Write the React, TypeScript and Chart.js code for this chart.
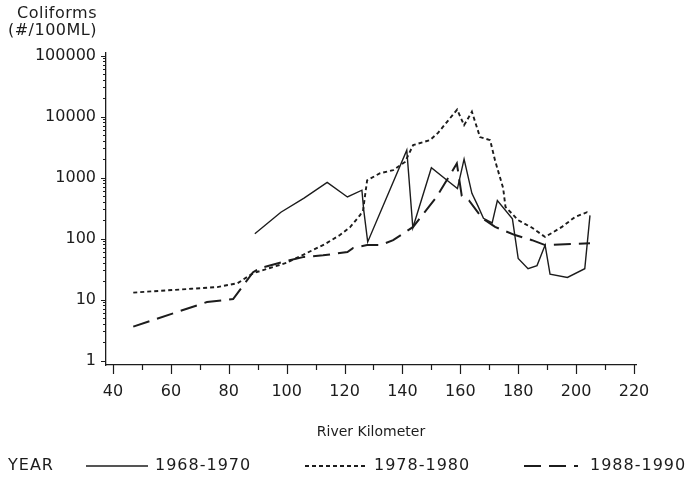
import React, { useEffect, useRef } from "react";
import { Chart, registerables } from "chart.js";

Chart.register(...registerables);

// ---- data ----
const seriesLabels = ["1968-1970", "1978-1980", "1988-1990"];
const legendTitle = "YEAR";
const yAxisTitle = ["Coliforms", "(#/100ML)"];
const xAxisTitle = "River Kilometer";

const km1968 = [89, 98, 106, 114, 121, 126, 126.6, 128, 141.5, 143.6, 150, 155.4, 159, 161.3, 164, 166, 168, 171, 172.8, 178, 180, 183.4, 186.5, 189.3, 191, 197, 203, 204.8];
const val1968 = [120, 270, 460, 830, 480, 620, 300, 88, 2800, 150, 1450, 900, 660, 2000, 550, 350, 215, 180, 420, 210, 47, 32, 36, 78, 26, 23, 32, 240];

const km1978 = [47, 67, 76, 83, 88.4, 100, 107, 113, 118.4, 122, 125.3, 126.4, 127.8, 132.3, 136.8, 140.9, 143.7, 149.5, 152.3, 158.9, 161.3, 164, 166.8, 170.3, 172, 174.8, 175.6, 180, 184.8, 189.3, 195.1, 199.6, 203.8, 204.8];
const val1978 = [13, 15, 16, 18.5, 27, 40, 58, 80, 114, 155, 240, 290, 900, 1180, 1320, 1800, 3400, 4100, 5400, 13000, 7200, 12000, 4600, 4100, 1900, 670, 330, 200, 150, 106, 155, 225, 270, 260];

const km1988 = [47, 72.5, 81.5, 88.4, 91, 101, 106, 112.6, 121, 123, 127.8, 132.3, 136.8, 143.7, 147.5, 151.8, 155.3, 158.8, 160.5, 163, 167.6, 172, 178.9, 184.8, 189.3, 204.8];
const val1988 = [3.6, 9.1, 10.2, 28, 33, 44, 50, 53, 60, 70, 78, 78, 94, 155, 265, 480, 900, 1700, 500, 420, 215, 155, 114, 94, 78, 84];

const xTickValues = [40, 50, 60, 70, 80, 90, 100, 110, 120, 130, 140, 150, 160, 170, 180, 190, 200, 210, 220];
const yTickValues = [1, 10, 100, 1000, 10000, 100000];
const yTickLabels = ["1", "10", "100", "1000", "10000", "100000"];

// ---- styles ----
const INK = "#1c1c1c";
const FONT = '"DejaVu Sans", "Liberation Sans", sans-serif';
const dashes: number[][] = [[], [4, 3], [17, 8]];
const widths = [1.4, 1.9, 2.0];

const decorPlugin = {
  id: "decor",
  afterDraw(chart: any) {
    const ctx: CanvasRenderingContext2D = chart.ctx;
    const xs = chart.scales.x;
    const ys = chart.scales.y;
    const area = chart.chartArea;
    ctx.save();
    ctx.strokeStyle = INK;
    ctx.fillStyle = INK;
    ctx.lineWidth = 1.2;
    ctx.setLineDash([]);
    // x tick marks
    xTickValues.forEach((v) => {
      const px = Math.round(xs.getPixelForValue(v)) + 0.5;
      const len = v % 20 === 0 ? 9 : 5;
      ctx.beginPath();
      ctx.moveTo(px, area.bottom);
      ctx.lineTo(px, area.bottom + len);
      ctx.stroke();
    });
    // y tick marks (log minor ticks)
    ctx.lineWidth = 1;
    for (let d = 0; d <= 5; d++) {
      for (let m = 1; m <= 9; m++) {
        if (d === 5 && m > 1) break;
        const v = m * Math.pow(10, d);
        const py = Math.round(ys.getPixelForValue(v)) + 0.5;
        const len = m === 1 ? 5 : 3;
        ctx.beginPath();
        ctx.moveTo(area.left - len, py);
        ctx.lineTo(area.left, py);
        ctx.stroke();
      }
    }
    // y axis title
    ctx.font = `16px ${FONT}`;
    (ctx as any).letterSpacing = "0.5px";
    ctx.textAlign = "right";
    ctx.textBaseline = "middle";
    ctx.fillText(yAxisTitle[0], 97, 14);
    ctx.fillText(yAxisTitle[1], 97, 31);
    // x axis title
    (ctx as any).letterSpacing = "0px";
    ctx.font = `14px ${FONT}`;
    ctx.textAlign = "center";
    ctx.fillText(xAxisTitle, (area.left + area.right) / 2, 432);
    // legend
    const ly = 466;
    ctx.font = `16px ${FONT}`;
    (ctx as any).letterSpacing = "1px";
    ctx.textAlign = "left";
    ctx.fillText(legendTitle, 8, ly);
    const samples = [
      [86, 148, 155],
      [305, 366, 374],
      [524, 578, 590],
    ];
    samples.forEach((s, i) => {
      ctx.save();
      ctx.lineWidth = widths[i];
      ctx.setLineDash(dashes[i]);
      ctx.beginPath();
      ctx.moveTo(s[0], ly);
      ctx.lineTo(s[1], ly);
      ctx.stroke();
      ctx.restore();
      ctx.fillText(seriesLabels[i], s[2], ly);
    });
    ctx.restore();
  },
};

export default function App() {
  const ref = useRef<HTMLCanvasElement | null>(null);
  useEffect(() => {
    document.body.style.margin = "0";
    const canvas = ref.current;
    if (!canvas) return;
    const kms = [km1968, km1978, km1988];
    const vals = [val1968, val1978, val1988];
    const chart = new Chart(canvas, {
      type: "line",
      data: {
        datasets: seriesLabels.map((label, i) => ({
          label,
          data: kms[i].map((x, j) => ({ x, y: vals[i][j] })),
          borderColor: INK,
          backgroundColor: INK,
          borderWidth: widths[i],
          borderDash: dashes[i],
          pointRadius: 0,
          tension: 0,
          fill: false,
        })),
      },
      options: {
        responsive: false,
        animation: false,
        layout: { padding: { left: 0, top: 53, right: 52, bottom: 0 } },
        plugins: { legend: { display: false }, tooltip: { enabled: false } },
        scales: {
          x: {
            type: "linear",
            min: 37.58,
            max: 220.7,
            afterBuildTicks: (s: any) => {
              s.ticks = xTickValues.map((v) => ({ value: v }));
            },
            afterFit: (s: any) => {
              s.height = 115;
            },
            grid: { display: false, drawTicks: false },
            border: { display: true, color: INK, width: 1.3 },
            ticks: {
              padding: 17,
              color: INK,
              font: { family: FONT, size: 16 },
              autoSkip: false,
              maxRotation: 0,
              callback: (v: any) => (Number(v) % 20 === 0 ? String(v) : ""),
            },
          },
          y: {
            type: "logarithmic",
            min: 0.845,
            max: 110000,
            afterBuildTicks: (s: any) => {
              s.ticks = yTickValues.map((v) => ({ value: v }));
            },
            afterFit: (s: any) => {
              s.width = 106;
            },
            grid: { display: false, drawTicks: false },
            border: { display: true, color: INK, width: 1.3 },
            ticks: {
              padding: 10,
              color: INK,
              font: { family: FONT, size: 16 },
              autoSkip: false,
              callback: (_v: any, i: number) => yTickLabels[i],
            },
          },
        },
      },
      plugins: [decorPlugin],
    } as any);
    return () => chart.destroy();
  }, []);
  return (
    <canvas
      ref={ref}
      width={688}
      height={480}
      style={{ display: "block", width: 688, height: 480, background: "#fff" }}
    />
  );
}
